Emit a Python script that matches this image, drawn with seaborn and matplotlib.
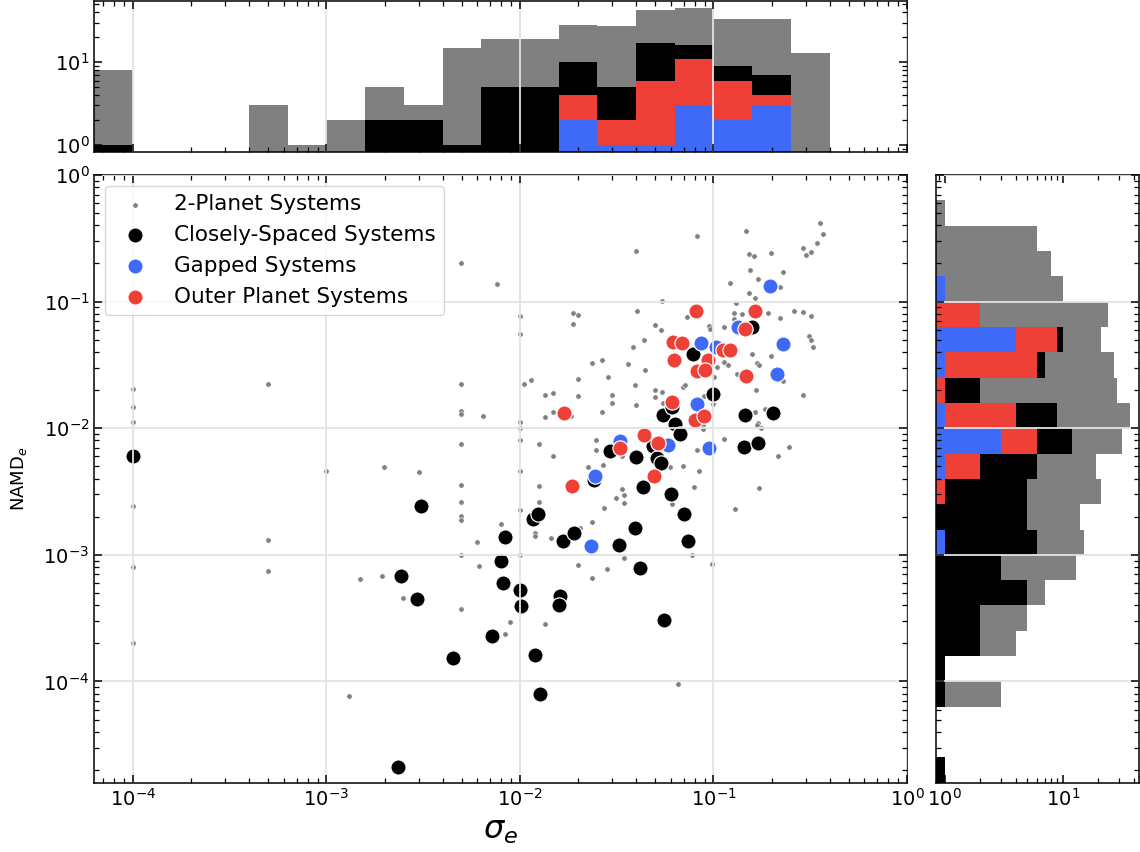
import numpy as np
import matplotlib
matplotlib.use("Agg")
import matplotlib.pyplot as plt
from matplotlib.ticker import LogLocator, NullFormatter
import seaborn as sns

# --- scatter data (sigma_e, NAMD_e) ---
two_planet_sigma = [
    1e-4, 1e-4, 1e-4, 1e-4, 1e-4, 1e-4, 5e-4, 5e-4, 5e-4, 9.9e-4,
    0.0013, 0.00149, 0.00194, 0.00199, 0.00249, 0.0030,
    0.00494, 0.00494, 0.00494, 0.00494, 0.00494, 0.00494, 0.00494, 0.00494, 0.00494, 0.00494, 0.00494,
    0.0076, 0.00646, 0.00597, 0.00614, 0.00794, 0.00841, 0.00891,
    0.00995, 0.00995, 0.00995, 0.00995, 0.00995, 0.00995, 0.00995, 0.00995,
    0.01045, 0.01143, 0.01247, 0.01247, 0.01247, 0.01194, 0.01194, 0.0135, 0.01486, 0.0135,
    0.01486, 0.01486, 0.01439, 0.0134, 0.01828, 0.01884, 0.0199, 0.01884, 0.01995, 0.01995,
    0.0204, 0.01986, 0.02234, 0.0237, 0.0265, 0.0237, 0.0237, 0.02477, 0.02477, 0.02685,
    0.02642, 0.02723, 0.02838, 0.02805, 0.02979, 0.02979, 0.03133, 0.0335, 0.03365, 0.0346,
    0.0346, 0.0346, 0.03614, 0.0382, 0.03963, 0.04009, 0.03917, 0.03963, 0.04375, 0.04436,
    0.04966, 0.05395, 0.04966, 0.05508, 0.04977, 0.05333, 0.05433, 0.06081, 0.05957, 0.06918,
    0.06577, 0.06982, 0.07145, 0.07261, 0.0771, 0.07962, 0.0822, 0.0822, 0.08433, 0.08974,
    0.09484, 0.09594, 0.09977, 0.1005, 0.09817, 0.0885, 0.0885, 0.1038, 0.1138, 0.1138,
    0.1194, 0.1138, 0.1213, 0.1282, 0.1282, 0.1306, 0.1288, 0.1318, 0.14, 0.1472,
    0.1524, 0.1614, 0.1545, 0.1531, 0.1633, 0.1581, 0.1687, 0.1726, 0.166, 0.1641,
    0.1706, 0.1687, 0.1766, 0.1726, 0.1698, 0.1854, 0.1905, 0.1977, 0.1977, 0.2163,
    0.2208, 0.2213, 0.228, 0.228, 0.2466, 0.2618, 0.2904, 0.2904, 0.2911, 0.3006,
    0.3126, 0.3177, 0.3281, 0.3192, 0.3192, 0.3443, 0.3556, 0.3681,
]
two_planet_namd = [
    0.0204, 0.0147, 0.0113, 0.00245, 0.0008, 0.0002, 0.0223, 0.0013, 0.00074, 0.0046,
    7.7e-5, 0.00065, 0.00068, 0.0049, 0.00046, 0.00447,
    0.2, 0.0224, 0.0138, 0.013, 0.00753, 0.00357, 0.00263, 0.00201, 0.00189, 0.001, 0.000376,
    0.138, 0.0126, 0.00126, 0.00082, 0.00176, 0.000238, 0.000295,
    0.0767, 0.0556, 0.0111, 0.0101, 0.008, 0.00458, 0.00227, 0.001,
    0.0225, 0.024, 0.00745, 0.00347, 0.00261, 0.00149, 0.0014, 0.01837, 0.019, 0.01216,
    0.0134, 0.006, 0.00137, 0.000282, 0.0126, 0.0815, 0.0785, 0.0662, 0.0247, 0.018,
    0.001626, 0.00083, 0.00493, 0.0327, 0.0348, 0.001815, 0.000656, 0.008, 0.00679, 0.00508,
    0.01346, 0.002355, 0.02559, 0.000776, 0.01837, 0.01596, 0.002805, 0.00605, 0.0033, 0.002944,
    0.002564, 0.000944, 0.0322, 0.0442, 0.253, 0.0845, 0.02203, 0.01531, 0.04955, 0.02858,
    0.01986, 0.01928, 0.0177, 0.01596, 0.06546, 0.05984, 0.1007, 0.00253, 0.00493, 0.00499,
    9.5e-5, 0.0211, 0.02213, 0.0762, 0.001, 0.00345, 0.328, 0.00667, 0.00461, 0.018,
    0.06471, 0.06095, 0.01549, 0.02559, 0.000845, 0.01064, 0.00989, 0.0307, 0.06353, 0.03365,
    0.03162, 0.0082, 0.1406, 0.08185, 0.0726, 0.09705, 0.00232, 0.02685, 0.07943, 0.364,
    0.2393, 0.2307, 0.1778, 0.1164, 0.1064, 0.03864, 0.03266, 0.03184, 0.01986, 0.01355,
    0.01109, 0.01057, 0.00995, 0.003365, 0.151, 0.01416, 0.08091, 0.2421, 0.0375, 0.00598,
    0.07482, 0.13, 0.1726, 0.02366, 0.00705, 0.08492, 0.2667, 0.08241, 0.01845, 0.235,
    0.05358, 0.04989, 0.04365, 0.07674, 0.2483, 0.2904, 0.4178, 0.3443,
]

closely_sigma = [
    1e-4, 0.003076, 0.00242, 0.00294, 0.00233, 0.00452, 0.00721, 0.00836, 0.00794, 0.00818,
    0.01, 0.01012, 0.01194, 0.01268, 0.01161, 0.01233, 0.0161, 0.01585, 0.01671, 0.01901,
    0.02415, 0.03243, 0.03917, 0.04169, 0.04305, 0.05572, 0.06026, 0.07063, 0.07362, 0.02917,
    0.03972, 0.04887, 0.05082, 0.05358, 0.05458, 0.0631, 0.0673, 0.06124, 0.09977, 0.07852,
    0.1581, 0.1455, 0.2042, 0.1445, 0.1694,
]
closely_namd = [
    0.00605, 0.00245, 0.000684, 0.00045, 2.1e-5, 0.000153, 0.000229, 0.00138, 0.0009, 0.000594,
    0.000531, 0.000392, 0.000163, 8.0e-5, 0.001914, 0.002084, 0.000473, 0.000402, 0.00129, 0.001486,
    0.00392, 0.001186, 0.001626, 0.000787, 0.00343, 0.000303, 0.003034, 0.00211, 0.00129, 0.00656,
    0.00592, 0.00726, 0.00581, 0.00536, 0.01276, 0.01076, 0.00897, 0.01483, 0.01858, 0.03846,
    0.06353, 0.01268, 0.01315, 0.0071, 0.00762,
]

gapped_sigma = [0.1968, 0.1334, 0.2296, 0.0859, 0.103, 0.2138, 0.0824, 0.0944, 0.05848, 0.03289, 0.02438, 0.02317]
gapped_namd = [0.133, 0.0631, 0.04634, 0.04753, 0.04416, 0.02673, 0.01549, 0.00697, 0.0074, 0.00794, 0.00421, 0.00118]

outer_sigma = [
    0.0811, 0.1644, 0.1459, 0.06152, 0.06902, 0.1125, 0.1216, 0.06266, 0.09397, 0.0824,
    0.09036, 0.1469, 0.06124, 0.07998, 0.08913, 0.01698, 0.04375, 0.03273, 0.05188, 0.0492,
    0.01849,
]
outer_namd = [
    0.08356, 0.08356, 0.06053, 0.04786, 0.04699, 0.04159, 0.04159, 0.03467, 0.03467, 0.02838,
    0.02891, 0.02594, 0.01607, 0.01151, 0.01253, 0.01315, 0.00891, 0.00697, 0.00771, 0.00416,
    0.00347,
]

# --- histogram counts (cumulative, as drawn), bins of 0.2 dex ---
# sigma_e bins from 10^-4.2 to 10^0
sig_all    = [8, 0, 0, 0, 3, 1, 2, 5, 3, 15, 19, 19, 28, 27, 43, 45, 33, 33, 13, 0, 0]
sig_black  = [1, 0, 0, 0, 0, 0, 0, 2, 2, 1, 5, 5, 10, 5, 17, 16, 9, 7, 0, 0, 0]
sig_red    = [0, 0, 0, 0, 0, 0, 0, 0, 0, 0, 0, 0, 4, 2, 6, 11, 6, 4, 0, 0, 0]
sig_blue   = [0, 0, 0, 0, 0, 0, 0, 0, 0, 0, 0, 0, 2, 1, 1, 3, 2, 3, 0, 0, 0]
# NAMD_e bins from 10^-4.8 to 10^0
namd_all   = [1, 0, 0, 3, 1, 4, 5, 7, 13, 15, 14, 21, 19, 32, 37, 29, 27, 21, 24, 10, 8, 6, 1, 0]
namd_black = [1, 0, 0, 1, 1, 2, 2, 5, 3, 6, 5, 5, 6, 12, 9, 2, 7, 10, 0, 0, 0, 0, 0, 0]
namd_red   = [0, 0, 0, 0, 0, 0, 0, 0, 0, 0, 0, 1, 2, 6, 4, 1, 6, 9, 2, 0, 0, 0, 0, 0]
namd_blue  = [0, 0, 0, 0, 0, 0, 0, 0, 0, 1, 0, 0, 1, 3, 1, 0, 1, 4, 0, 1, 0, 0, 0, 0]

GRAY = "#808080"
BLUE = "#3f69f7"
RED = "#ee4036"
GRID = "#e3e3e3"

sns.set_style("white")
plt.rcParams.update({
    "font.family": ["DejaVu Sans"],
    "text.color": "black", "axes.labelcolor": "black",
    "xtick.color": "black", "ytick.color": "black",
    "axes.linewidth": 1.1, "axes.edgecolor": "black",
})


def style_ticks(a):
    for axis in (a.xaxis, a.yaxis):
        if axis.get_scale() == "log":
            axis.set_major_locator(LogLocator(base=10, numticks=20))
            axis.set_minor_locator(LogLocator(base=10, subs=np.arange(2, 10), numticks=200))
            axis.set_minor_formatter(NullFormatter())
    a.tick_params(which="both", direction="in", top=True, right=True,
                  bottom=True, left=True, colors="black", labelsize=14)
    a.tick_params(which="major", length=6, width=1.1)
    a.tick_params(which="minor", length=3.5, width=0.9)


fig = plt.figure(figsize=(11.4, 8.52), dpi=100)
ax = fig.add_axes([0.0827, 0.0813, 0.7129, 0.7133])
ax_top = fig.add_axes([0.0827, 0.822, 0.7129, 0.177], sharex=ax)
ax_right = fig.add_axes([0.821, 0.0813, 0.1778, 0.7133], sharey=ax)

# main scatter
sns.scatterplot(x=two_planet_sigma, y=two_planet_namd, ax=ax, color=GRAY, s=15,
                linewidth=0.4, label="2-Planet Systems")
sns.scatterplot(x=closely_sigma, y=closely_namd, ax=ax, color="black", s=120,
                label="Closely-Spaced Systems")
sns.scatterplot(x=gapped_sigma, y=gapped_namd, ax=ax, color=BLUE, s=120,
                label="Gapped Systems")
sns.scatterplot(x=outer_sigma, y=outer_namd, ax=ax, color=RED, s=120,
                label="Outer Planet Systems")
ax.set_xscale("log")
ax.set_yscale("log")
ax.set_xlim(10**-4.2, 1)
ax.set_ylim(10**-4.8, 1)
ax.set_xlabel(r"$\sigma_e$", fontsize=23)
ax.set_ylabel(r"NAMD$_e$", fontsize=13, labelpad=10)
ax.grid(True, which="major", color=GRID, linewidth=1.3)
ax.set_axisbelow(False)
ax.legend(loc="upper left", fontsize=15.5, frameon=True, edgecolor="#cccccc",
          borderaxespad=0.5)

# top histogram of sigma_e
sig_edges = np.logspace(-4.2, 0, len(sig_all) + 1)
ax_top.set_yscale("log")
for counts, col in [(sig_all, GRAY), (sig_black, "black"), (sig_red, RED), (sig_blue, BLUE)]:
    ax_top.bar(sig_edges[:-1], counts, width=np.diff(sig_edges), align="edge",
               color=col, linewidth=0)
ax_top.set_ylim(0.83, 55)
ax_top.grid(True, axis="x", which="major", color=GRID, linewidth=1.3)
ax_top.grid(False, axis="y")
ax_top.set_axisbelow(False)

# right histogram of NAMD_e
namd_edges = np.logspace(-4.8, 0, len(namd_all) + 1)
ax_right.set_xscale("log")
for counts, col in [(namd_all, GRAY), (namd_black, "black"), (namd_red, RED), (namd_blue, BLUE)]:
    ax_right.barh(namd_edges[:-1], counts, height=np.diff(namd_edges), align="edge",
                  color=col, linewidth=0)
ax_right.set_xlim(0.84, 44)
ax_right.grid(True, axis="y", which="major", color=GRID, linewidth=1.3)
ax_right.grid(False, axis="x")
ax_right.set_axisbelow(False)

for a in (ax, ax_top, ax_right):
    style_ticks(a)
ax_top.tick_params(axis="x", which="both", labelbottom=False)
ax_right.tick_params(axis="y", which="both", labelleft=False)
ax.set_xlim(10**-4.2, 1)
ax.set_ylim(10**-4.8, 1)

fig.savefig("out.png", dpi=100)
